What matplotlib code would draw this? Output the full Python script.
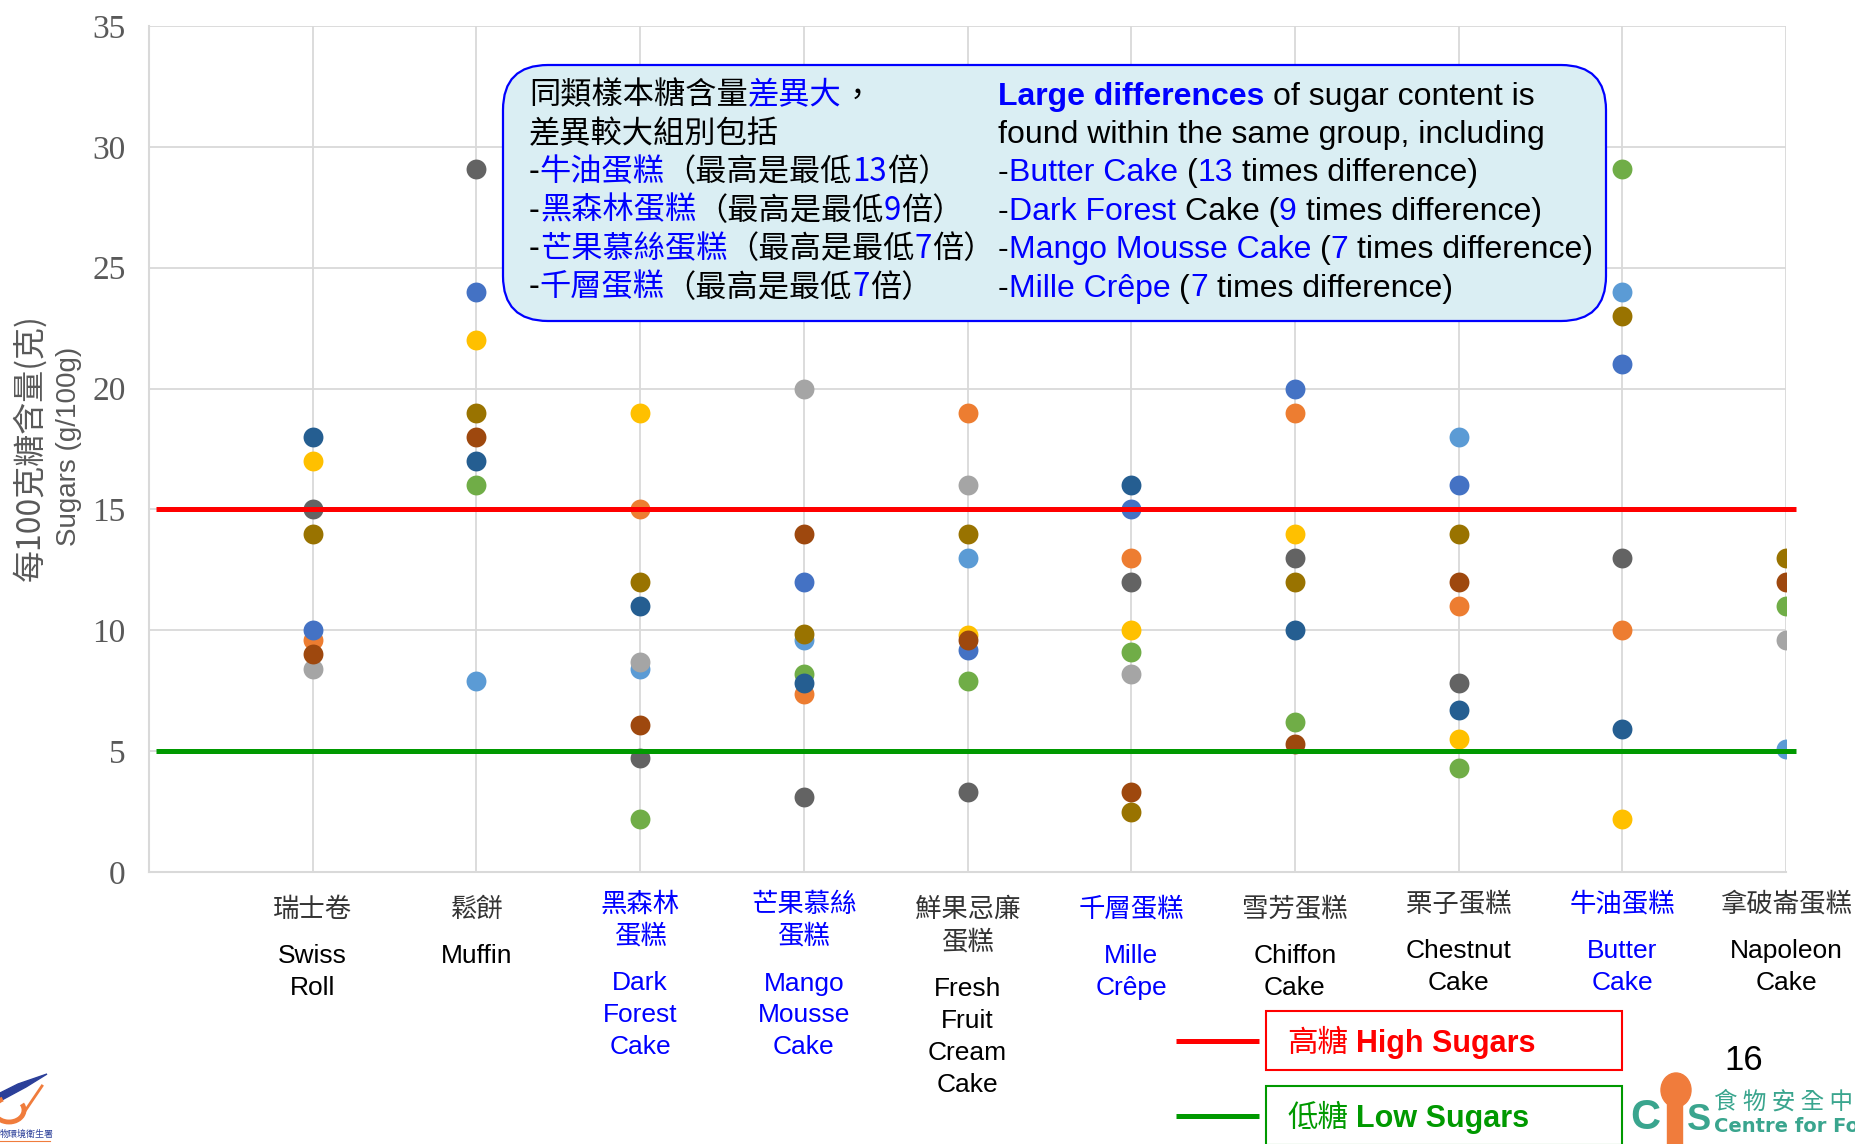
import numpy as np
import matplotlib
matplotlib.use('Agg')
import matplotlib.pyplot as plt
from matplotlib.patches import FancyBboxPatch, Rectangle, Ellipse, Arc, Polygon
from matplotlib.transforms import blended_transform_factory

W, H, DPI = 1856, 1144, 100
nan = np.nan

# cake groups, left to right
cats_zh = ["瑞士卷", "鬆餅", "黑森林\n蛋糕", "芒果慕絲\n蛋糕", "鮮果忌廉\n蛋糕",
           "千層蛋糕", "雪芳蛋糕", "栗子蛋糕", "牛油蛋糕", "拿破崙蛋糕"]
cats_en = ["Swiss\nRoll", "Muffin", "Dark\nForest\nCake", "Mango\nMousse\nCake",
           "Fresh\nFruit\nCream\nCake", "Mille\nCrêpe", "Chiffon\nCake",
           "Chestnut\nCake", "Butter\nCake", "Napoleon\nCake"]
big_diff = [False, False, True, True, False, True, False, False, True, False]

# sugars (g/100g) of each sample, one list per sample series
s_lightblue = [nan, 7.9, 8.4, 9.6, 13.0, nan, nan, 18.0, 24.0, 5.1]
s_orange    = [9.6, nan, 15.0, 7.35, 19.0, 13.0, 19.0, 11.0, 10.0, nan]
s_green     = [nan, 16.0, 2.2, 8.2, 7.9, 9.1, 6.2, 4.3, 29.1, 11.0]
s_yellow    = [17.0, 22.0, 19.0, nan, 9.8, 10.0, 14.0, 5.5, 2.2, nan]
s_blue      = [10.0, 24.0, nan, 12.0, 9.2, 15.0, 20.0, 16.0, 21.0, nan]
s_gray      = [8.4, nan, 8.7, 20.0, 16.0, 8.2, nan, nan, nan, 9.6]
s_darkblue  = [18.0, 17.0, 11.0, 7.8, nan, 16.0, 10.0, 6.7, 5.9, nan]
s_brown     = [9.0, 18.0, 6.1, 14.0, 9.6, 3.3, 5.3, 12.0, nan, 12.0]
s_darkgray  = [15.0, 29.1, 4.7, 3.1, 3.3, 12.0, 13.0, 7.8, 13.0, nan]
s_olive     = [14.0, 19.0, 12.0, 9.85, 14.0, 2.5, 12.0, 14.0, 23.0, 13.0]

high_sugar = 15
low_sugar = 5

series = [
    (s_lightblue, "#5B9BD5"),
    (s_orange, "#ED7D31"),
    (s_green, "#70AD47"),
    (s_yellow, "#FFC000"),
    (s_blue, "#4472C4"),
    (s_gray, "#A5A5A5"),
    (s_darkblue, "#255E91"),
    (s_brown, "#9E480E"),
    (s_darkgray, "#636363"),
    (s_olive, "#997300"),
]

BLUE = "#0000FF"
BLACK = "#000000"
ZH = ["Noto Sans CJK TC", "Liberation Sans"]
EN = ["Liberation Sans", "DejaVu Sans"]

fig = plt.figure(figsize=(W / DPI, H / DPI), dpi=DPI)
ax = fig.add_axes([149 / W, 1 - 872 / H, (1786 - 149) / W, (872 - 26) / H])

x = np.arange(1, len(cats_zh) + 1)
for vals, color in series:
    ax.scatter(x, vals, s=205, color=color, linewidths=0, zorder=3)

# high / low sugar thresholds
ax.plot([0.045, 10.06], [high_sugar, high_sugar], color="#FF0000", lw=3.6,
        solid_capstyle="butt", zorder=4, clip_on=False)
ax.plot([0.045, 10.06], [low_sugar, low_sugar], color="#009900", lw=3.6,
        solid_capstyle="butt", zorder=4, clip_on=False)

ax.set_xlim(0, 10)
ax.set_ylim(0, 35)
ax.set_xticks(x)
ax.set_xticklabels([])
ax.set_yticks(range(0, 36, 5))
ax.tick_params(axis="both", length=0)
ax.tick_params(axis="y", pad=17, labelsize=24, labelcolor="#595959")
for lab in ax.get_yticklabels():
    lab.set_family("Liberation Serif")
ax.grid(True, color="#D9D9D9", lw=1.3, zorder=0)
ax.set_axisbelow(True)
for side in ["top", "right"]:
    ax.spines[side].set_visible(False)
for side in ["left", "bottom"]:
    ax.spines[side].set_color("#D9D9D9")
    ax.spines[side].set_linewidth(1.5)

# category labels under the axis: chinese name, then english name
tr = blended_transform_factory(ax.transData, fig.dpi_scale_trans)
label_top = [909, 909, 904, 904, 909, 909, 909, 904, 904, 904]
for i, (zh, en) in enumerate(zip(cats_zh, cats_en)):
    y = label_top[i]
    for line in zh.split("\n"):
        ax.text(x[i], (H - y) / DPI, line, transform=tr, ha="center", va="center",
                fontsize=19, family=ZH, color=BLUE if big_diff[i] else "#333333")
        y += 32.5
    y += 47 - 32.5
    for line in en.split("\n"):
        ax.text(x[i], (H - y) / DPI, line, transform=tr, ha="center", va="center",
                fontsize=19, family=EN, color=BLUE if big_diff[i] else BLACK)
        y += 32

tf = fig.dpi_scale_trans
fig.text(30 / DPI, (H - 448) / DPI, "每100克糖含量(克)", transform=tf,
         rotation=90, ha="center", va="center", fontsize=23, family=ZH, color="#595959")
fig.text(69 / DPI, (H - 446) / DPI, "Sugars (g/100g)", transform=tf,
         rotation=90, ha="center", va="center", fontsize=20, family=EN, color="#595959")


def rich_line(x, y, parts, size, family):
    # draw coloured pieces one after another on a common baseline (pixel coords from top)
    r = fig.canvas.get_renderer()
    space = 0.278 * size * DPI / 72
    for part in parts:
        s, color, bold = part[:3]
        fam = part[3] if len(part) > 3 else family
        lead = len(s) - len(s.lstrip(" "))
        trail = len(s) - len(s.rstrip(" "))
        x += lead * space
        t = fig.text(x / DPI, (H - y) / DPI, s.strip(" "), transform=tf,
                     fontsize=size, color=color, fontweight="bold" if bold else "normal",
                     family=fam, ha="left", va="baseline", zorder=6)
        x += t.get_window_extent(r).width + trail * space
    return x


# note box
box = FancyBboxPatch((503 / DPI, (H - 321) / DPI), (1606 - 503) / DPI, (321 - 65) / DPI,
                     boxstyle="round,pad=0,rounding_size=0.45", transform=tf,
                     facecolor="#DAEEF3", edgecolor=BLUE, lw=1.6, zorder=5)
fig.patches.append(box)

zh_lines = [
    [("同類樣本糖含量", BLACK, False), ("差異大", BLUE, False), ("，", BLACK, False)],
    [("差異較大組別包括", BLACK, False)],
    [("-", BLACK, False), ("牛油蛋糕", BLUE, False), ("（最高是最低", BLACK, False),
     ("13", BLUE, False), ("倍）", BLACK, False)],
    [("-", BLACK, False), ("黑森林蛋糕", BLUE, False), ("（最高是最低", BLACK, False),
     ("9", BLUE, False), ("倍）", BLACK, False)],
    [("-", BLACK, False), ("芒果慕絲蛋糕", BLUE, False), ("（最高是最低", BLACK, False),
     ("7", BLUE, False), ("倍）", BLACK, False)],
    [("-", BLACK, False), ("千層蛋糕", BLUE, False), ("（最高是最低", BLACK, False),
     ("7", BLUE, False), ("倍）", BLACK, False)],
]
en_lines = [
    [("Large differences", BLUE, True), (" of sugar content is", BLACK, False)],
    [("found within the same group, including", BLACK, False)],
    [("-", BLACK, False), ("Butter Cake", BLUE, False), (" (", BLACK, False),
     ("13", BLUE, False), (" times difference)", BLACK, False)],
    [("-", BLACK, False), ("Dark Forest", BLUE, False), (" Cake (", BLACK, False),
     ("9", BLUE, False), (" times difference)", BLACK, False)],
    [("-", BLACK, False), ("Mango Mousse Cake", BLUE, False), (" (", BLACK, False),
     ("7", BLUE, False), (" times difference)", BLACK, False)],
    [("-", BLACK, False), ("Mille Crêpe", BLUE, False), (" (", BLACK, False),
     ("7", BLUE, False), (" times difference)", BLACK, False)],
]
for k in range(6):
    yb = 93.5 + k * 38.4 + 11
    rich_line(529, yb, zh_lines[k], 22.5, ZH)
    rich_line(998, yb, en_lines[k], 23, EN)

# legend for the two threshold lines
for yc, col, zh, en in [(1041, "#FF0000", "高糖", " High Sugars"),
                        (1116, "#009900", "低糖", " Low Sugars")]:
    fig.add_artist(plt.Line2D([1176 / DPI, 1259 / DPI], [(H - yc) / DPI] * 2,
                              transform=tf, color=col, lw=3.6, solid_capstyle="butt"))
    top = yc - 30
    fig.add_artist(Rectangle((1266 / DPI, (H - top - 59) / DPI), 356 / DPI, 59 / DPI,
                             transform=tf, facecolor="none", edgecolor=col, lw=1.5))
    rich_line(1287, yc + 11, [(zh, col, False, ZH), (en, col, True, EN)], 22, EN)

fig.text(1744 / DPI, (H - 1061) / DPI, "16", transform=tf, ha="center", va="center",
         fontsize=25, family=EN, color=BLACK)

# centre for food safety mark, bottom right
TEAL = "#3AA58E"
ORANGE = "#F07C3C"
fig.add_artist(Ellipse((1676 / DPI, (H - 1090) / DPI), 30 / DPI, 34 / DPI,
                       transform=tf, color=ORANGE))
fig.add_artist(Rectangle((1667 / DPI, 0), 15 / DPI, (H - 1090) / DPI,
                         transform=tf, color=ORANGE))
fig.text(1645 / DPI, (H - 1118) / DPI, "C", transform=tf, ha="center", va="center",
         fontsize=30, fontweight="bold", family=EN, color=TEAL)
fig.text(1699 / DPI, (H - 1120) / DPI, "S", transform=tf, ha="center", va="center",
         fontsize=26, fontweight="bold", family=EN, color=TEAL)
fig.text(1714 / DPI, (H - 1102) / DPI, "食 物 安 全 中 心", transform=tf, ha="left",
         va="center", fontsize=17, family=ZH, color=TEAL)
fig.text(1714 / DPI, (H - 1127) / DPI, "Centre for Food Safety", transform=tf, ha="left",
         va="center", fontsize=14, fontweight="bold",
         family=["Liberation Sans Narrow", "DejaVu Sans"], color=TEAL)

# department mark, bottom left
wing = [(0, 1093), (18, 1084), (47, 1074), (26, 1087), (0, 1101)]
fig.add_artist(Polygon([(px / DPI, (H - py) / DPI) for px, py in wing], closed=True,
                       transform=tf, color="#2B3F99"))
fig.add_artist(Arc((9 / DPI, (H - 1110) / DPI), 30 / DPI, 24 / DPI, theta1=120, theta2=385,
                   transform=tf, color=ORANGE, lw=3.5))
fig.add_artist(plt.Line2D([23 / DPI, 42 / DPI], [(H - 1114) / DPI, (H - 1086) / DPI],
                          transform=tf, color=ORANGE, lw=2))
fig.text(0, (H - 1134) / DPI, "物環境衛生署", transform=tf, ha="left", va="center",
         fontsize=6.5, family=ZH, color="#2B3F99")
fig.add_artist(plt.Line2D([0, 50 / DPI], [(H - 1141) / DPI] * 2, transform=tf,
                          color=ORANGE, lw=0.8))

fig.savefig("out.png", dpi=DPI)
